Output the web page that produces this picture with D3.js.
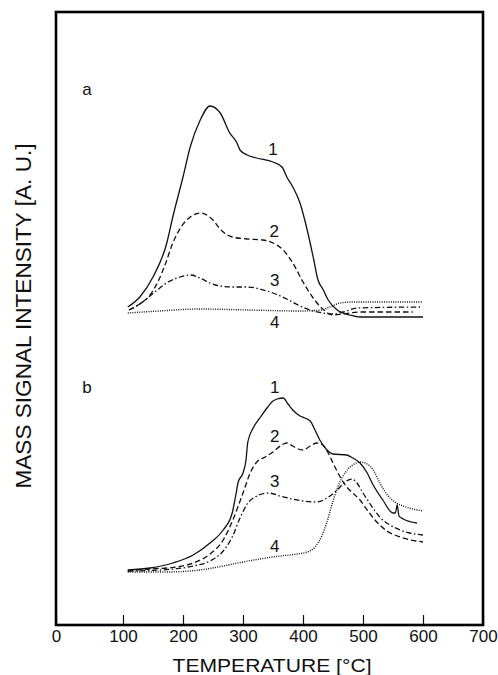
<!DOCTYPE html>
<html>
<head>
<meta charset="utf-8">
<script src="https://cdn.jsdelivr.net/npm/d3@7"></script>
<style>
  body { margin: 0; background: #fff; }
  text { font-family: "Liberation Sans", Arial, sans-serif; fill: #111; }
</style>
</head>
<body>
<svg id="container" width="498" height="675"></svg>
<script>
// temperature [°C], signal [a.u.]
var a1 = [[108,319],[128,329],[150,349],[173,383],[183,409],[200,449],[212,479],[228,505],[245,520],[262,513],
  [278,493],[290,483],[295,476],[307,471],[323,468],[350,464],[365,459],[373,449],[383,439],[395,423],[407,396],
  [417,369],[425,346],[433,337],[442,326],[457,316],[478,311],[495,309],[600,309]];
var a2 = [[110,316],[128,322],[145,331],[158,344],[170,361],[183,383],[198,400],[212,409],[230,413],[248,407],
  [265,395],[282,389],[307,387],[333,386],[350,383],[367,376],[383,363],[400,344],[417,328],[433,317],[450,311],
  [467,312],[495,314],[583,314]];
var a3 = [[110,316],[128,322],[153,334],[175,344],[195,349],[213,351],[228,348],[245,343],[262,340],[283,339],
  [307,339],[328,337],[350,333],[373,327],[395,320],[417,315],[433,313],[450,312],[467,314],[490,318],[595,319]];
var a4 = [[108,313],[160,315],[228,317],[310,316],[395,315],[430,316],[445,319],[462,323],[483,324],[598,324]];

var b1 = [[108,56],[145,58],[183,63],[217,71],[245,83],[267,96],[282,113],[288,131],[292,144],[300,153],[305,166],
  [308,184],[317,198],[328,208],[340,218],[348,224],[357,227],[367,228],[375,222],[383,216],[395,210],[403,208],
  [412,205],[420,196],[428,186],[440,176],[450,172],[473,171],[483,168],[495,163],[507,153],[517,141],[533,126],
  [550,113],[554,113],[557,121],[560,110],[567,107],[590,103]];
var b2 = [[108,55],[145,57],[190,59],[217,63],[245,72],[267,86],[283,106],[300,133],[312,153],[323,164],[337,169],
  [350,174],[362,180],[373,183],[383,180],[392,177],[400,176],[412,180],[423,183],[433,181],[442,173],[450,163],
  [462,149],[473,139],[483,133],[495,126],[507,116],[523,104],[540,95],[562,89],[600,84]];
var b3 = [[108,55],[162,56],[217,60],[245,65],[267,75],[282,89],[295,108],[307,122],[323,130],[342,133],[362,130],
  [382,127],[400,125],[423,124],[440,128],[457,136],[470,144],[482,147],[490,143],[500,133],[512,122],[528,109],
  [545,101],[562,96],[578,93],[600,91]];
var b4 = [[108,54],[173,54],[228,56],[267,60],[300,64],[328,67],[362,70],[390,72],[407,74],[420,79],[432,91],
  [440,104],[448,121],[458,139],[470,153],[483,161],[495,164],[507,162],[517,156],[528,143],[542,130],[553,124],
  [567,120],[600,115]];

var xTicks = [0, 100, 200, 300, 400, 500, 600, 700];

// [data, curve label, label x (°C), label signal]
var curvesA = [[a1, "1", 350, 471], [a2, "2", 352, 389], [a3, "3", 353, 340], [a4, "4", 353, 298]];
var curvesB = [[b1, "1", 353, 233], [b2, "2", 353, 184], [b3, "3", 353, 139], [b4, "4", 353, 74]];

const main = function(){
  var svg = d3.select('#container');

  var left = 56, right = 483, top = 12, bottom = 625;

  var x = d3.scaleLinear().domain([0, 100, 700]).range([left, 123, right]);
  var y = d3.scaleLinear().domain([0, 614]).range([626, 12]);

  var dashes = ["none", "5.5,3", "5.5,2.5,1.5,2.5", "1,1.3"];

  var line = d3.line()
    .x(function(d) { return x(d[0]); })
    .y(function(d) { return y(d[1]); })
    .curve(d3.curveMonotoneX);

  var drawPanel = function(curves, name, nameY) {
    curves.forEach(function(c, i) {
      svg.append("path")
        .datum(c[0])
        .attr("d", line)
        .attr("fill", "none")
        .attr("stroke", "#111")
        .attr("stroke-width", i == 3 ? 1.4 : 1.3)
        .attr("stroke-dasharray", dashes[i]);

      svg.append("text")
        .attr("x", x(c[2]))
        .attr("y", y(c[3]))
        .attr("text-anchor", "middle")
        .attr("font-size", 17)
        .text(c[1]);
    });

    svg.append("text")
      .attr("x", 87)
      .attr("y", nameY)
      .attr("text-anchor", "middle")
      .attr("font-size", 17)
      .text(name);
  }

  drawPanel(curvesA, "a", 95);
  drawPanel(curvesB, "b", 393);

  // x axis, ticks pointing inward
  var xAxis = d3.axisBottom(x)
    .tickValues(xTicks)
    .tickSizeInner(-10)
    .tickSizeOuter(0)
    .tickPadding(5)
    .tickFormat(d3.format("d"));

  var g = svg.append("g")
    .attr("transform", "translate(0," + bottom + ")")
    .call(xAxis);
  g.select(".domain").remove();
  g.selectAll(".tick line").attr("stroke", "#111").attr("stroke-width", 1.2);
  g.selectAll(".tick text")
    .attr("font-size", 17)
    .attr("font-family", '"Liberation Sans", Arial, sans-serif')
    .attr("fill", "#111");

  // frame
  svg.append("rect")
    .attr("x", left)
    .attr("y", top)
    .attr("width", right - left)
    .attr("height", bottom - top)
    .attr("fill", "none")
    .attr("stroke", "#000")
    .attr("stroke-width", 2.6);

  svg.append("text")
    .attr("x", 272)
    .attr("y", 672)
    .attr("text-anchor", "middle")
    .attr("font-size", 18.5)
    .attr("textLength", 199)
    .attr("lengthAdjust", "spacingAndGlyphs")
    .text("TEMPERATURE [°C]");

  svg.append("text")
    .attr("transform", "translate(31,316) rotate(-90)")
    .attr("text-anchor", "middle")
    .attr("font-size", 21.5)
    .attr("textLength", 345)
    .attr("lengthAdjust", "spacingAndGlyphs")
    .text("MASS SIGNAL INTENSITY [A. U.]");
}

main();
</script>
</body>
</html>
